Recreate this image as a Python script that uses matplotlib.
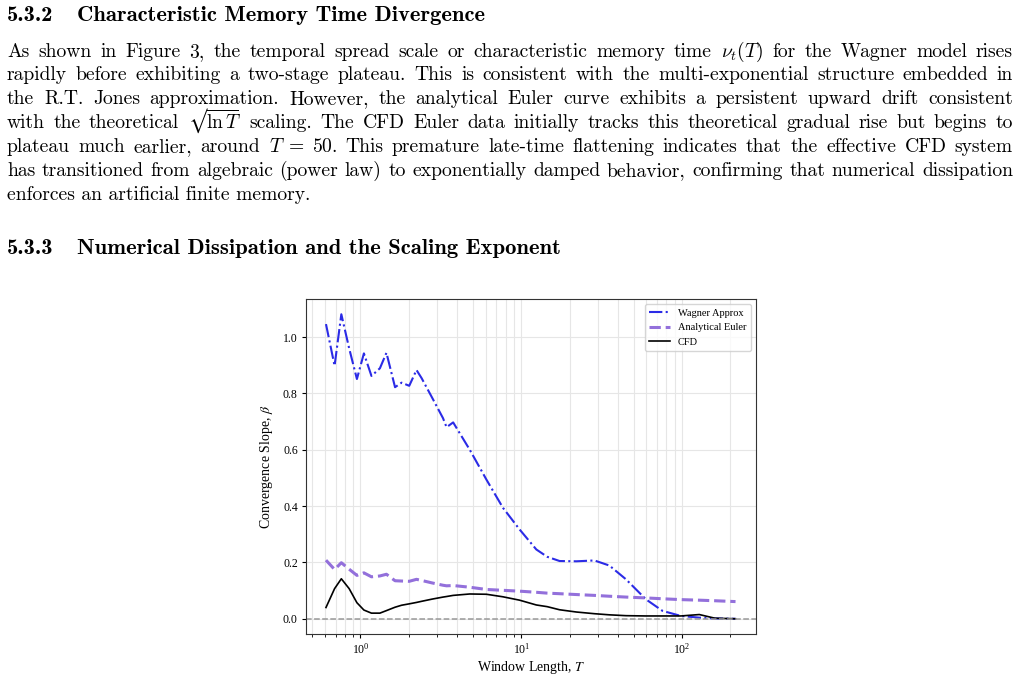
import re
import matplotlib
matplotlib.use("Agg")
import matplotlib.pyplot as plt

plt.rcParams['font.family'] = ['Liberation Serif', 'DejaVu Serif']
plt.rcParams['mathtext.fontset'] = 'stix'

# ---- data ----
T = [0.61, 0.69, 0.76, 0.85, 0.95, 1.05, 1.17, 1.32, 1.45, 1.64, 1.80, 2.01,
     2.23, 2.40, 2.8, 3.26, 3.43, 3.77, 4.78, 6.07, 7.69, 9.76, 12.4, 14.5,
     17.3, 22, 28.5, 35.3, 44.8, 59.6, 75.6, 98.4, 128, 160, 215]
wagner = [1.046, 0.898, 1.081, 0.96, 0.851, 0.942, 0.862, 0.889, 0.944, 0.822,
          0.838, 0.827, 0.883, 0.854, 0.783, 0.712, 0.680, 0.697, 0.600, 0.494,
          0.394, 0.317, 0.246, 0.220, 0.205, 0.204, 0.207, 0.189, 0.140, 0.069,
          0.028, 0.010, 0.004, 0.001, 0.0]
euler = [0.208, 0.175, 0.199, 0.176, 0.154, 0.163, 0.149, 0.152, 0.158, 0.135,
         0.134, 0.133, 0.140, 0.136, 0.127, 0.119, 0.117, 0.118, 0.112, 0.104,
         0.101, 0.098, 0.094, 0.091, 0.089, 0.086, 0.083, 0.080, 0.077, 0.074,
         0.071, 0.068, 0.066, 0.064, 0.061]
cfd = [0.040, 0.107, 0.142, 0.107, 0.057, 0.031, 0.020, 0.020, 0.029, 0.041,
       0.048, 0.053, 0.058, 0.062, 0.070, 0.077, 0.079, 0.083, 0.088, 0.087,
       0.078, 0.066, 0.049, 0.043, 0.032, 0.024, 0.018, 0.014, 0.011, 0.010,
       0.010, 0.010, 0.015, 0.002, 0.0]

PARAGRAPH = [
    r"As shown in Figure 3, the temporal spread scale or characteristic memory time $\nu_t(T)$ for the Wagner model rises",
    r"rapidly before exhibiting a two-stage plateau. This is consistent with the multi-exponential structure embedded in",
    r"the R.T. Jones approximation. However, the analytical Euler curve exhibits a persistent upward drift consistent",
    r"with the theoretical SQRT scaling. The CFD Euler data initially tracks this theoretical gradual rise but begins to",
    r"plateau much earlier, around $T\;{=}\;50$. This premature late-time flattening indicates that the effective CFD system",
    r"has transitioned from algebraic (power law) to exponentially damped behavior, confirming that numerical dissipation",
    r"enforces an artificial finite memory.",
]

W, H = 1019, 680
fig = plt.figure(figsize=(W / 100, H / 100), dpi=100)
renderer = fig.canvas.get_renderer()

BODY = dict(family='cmr10', math_fontfamily='cm', fontsize=14.1,
            va='baseline', ha='left')
HEAD = dict(family='cmb10', fontsize=16.3, va='baseline', ha='left')


def put(x, y, s, **kw):
    return fig.text(x / W, 1 - y / H, s, **kw)


# pick a square-root form whose radical is not too tall
SQRT = r"$\sqrt{\ln T}$"
try:
    probe = put(0, 0, "$\u221a\\overline{\\ln T}$", **BODY)
    probe.get_window_extent(renderer)
    SQRT = "$\u221a\\overline{\\ln T}$"
except Exception:
    pass
finally:
    probe.remove()


def justify_line(s, y, x0=7, x1=1013):
    # keep $...$ pieces (and trailing punctuation) as one word
    words = re.findall(r'\S*\$[^$]*\$\S*|\S+', s)
    words = [SQRT if w == 'SQRT' else w for w in words]
    texts = [put(x0, y, w, **BODY) for w in words]
    widths = [t.get_window_extent(renderer).width for t in texts]
    gap = (x1 - x0 - sum(widths)) / (len(words) - 1)
    x = x0
    for t, w in zip(texts, widths):
        t.set_x(x / W)
        x += w + gap


# ---- document text ----
put(7, 20.7, "5.3.2", **HEAD)
put(76.7, 20.7, "Characteristic Memory Time Divergence", **HEAD)

baselines = [56.7, 80.5, 104.3, 128.1, 151.9, 175.7, 199.5]
for line, y in zip(PARAGRAPH[:-1], baselines[:-1]):
    justify_line(line, y)
put(7, baselines[-1], PARAGRAPH[-1], **BODY)

put(7, 254.5, "5.3.3", **HEAD)
put(76.7, 254.5, "Numerical Dissipation and the Scaling Exponent", **HEAD)

# ---- chart ----
ax = fig.add_axes([305.5 / W, 1 - 634 / H, (756 - 305.5) / W, (634 - 299) / H])
ax.plot(T, wagner, color='#2b2be6', ls='-.', lw=1.5, label='Wagner Approx')
ax.plot(T, euler, color='#9370DB', ls='--', lw=2.2, label='Analytical Euler')
ax.plot(T, cfd, color='black', lw=1.2, label='CFD')
ax.axhline(0, color='#999999', ls='--', lw=1.1)
ax.set_xscale('log')

ax.grid(True, which='major', color='#e6e6e6', lw=0.8)
ax.grid(True, which='minor', axis='x', color='#e6e6e6', lw=0.8)
ax.set_axisbelow(True)

ax.set_xlabel('Window Length, $T$', fontsize=10, labelpad=2)
ax.set_ylabel(r'Convergence Slope, $\beta$', fontsize=10, labelpad=6)
ax.tick_params(labelsize=8.5, length=3, pad=2.5)
ax.tick_params(which='minor', length=1.8)
for s in ax.spines.values():
    s.set_color('#333333')

ax.legend(loc='upper right', fontsize=7.5)

fig.savefig('out.png', dpi=100)
